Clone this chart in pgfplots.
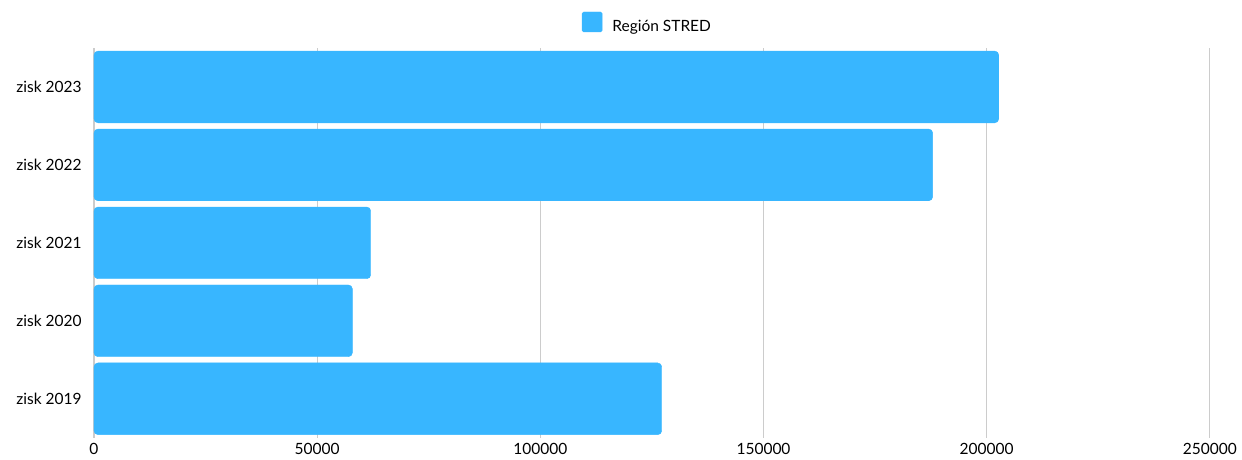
\documentclass[border=0pt]{standalone}
\usepackage{pgfplots}
\pgfplotsset{compat=1.18}
\usepackage{fontspec}
\setmainfont{Lato}
\definecolor{barblue}{HTML}{38B6FF}
\definecolor{gridgray}{HTML}{CCCCCC}

\begin{document}
\fontsize{15.5}{18}\selectfont
\begin{tikzpicture}
\begin{axis}[
    scale only axis,
    width=1116.5pt, height=390pt,
    xbar, bar width=0.92,
    xmin=0, xmax=250000,
    ymin=-0.5, ymax=4.5,
    xtick={0,50000,100000,150000,200000,250000},
    ytick={0,1,2,3,4},
    yticklabels={zisk 2019, zisk 2020, zisk 2021, zisk 2022, zisk 2023},
    scaled x ticks=false,
    xticklabel style={/pgf/number format/fixed, /pgf/number format/1000 sep={},
        /pgf/number format/assume math mode=true, yshift=0pt},
    xmajorgrids=true,
    grid style={gridgray, line width=1pt},
    axis x line*=bottom,
    axis y line*=left,
    x axis line style={draw=none},
    y axis line style={gridgray, line width=1.2pt},
    major tick length=0pt,
    yticklabel style={xshift=-7pt},
    legend style={at={(0.496,1.0)}, anchor=south, yshift=12pt, draw=none,
        inner sep=0pt, legend cell align=left,
        /tikz/every even column/.append style={column sep=4pt}},
    legend image code/.code={\fill[barblue, rounded corners=1.5pt] (0pt,-5pt) rectangle (20pt,15pt);},
    clip=false,
]
\addplot[fill=barblue, draw=barblue, rounded corners=4pt] coordinates {
    (127200,0) (57900,1) (62000,2) (187900,3) (202700,4)
};
\legend{\hspace{8pt}Región STRED}
% fix the picture's extent to the reference's margins
\path (rel axis cs:0,0) ++(-94pt,-18pt);
\path (rel axis cs:1,1) ++(31.5pt,48pt);
\end{axis}
\end{tikzpicture}
\end{document}
